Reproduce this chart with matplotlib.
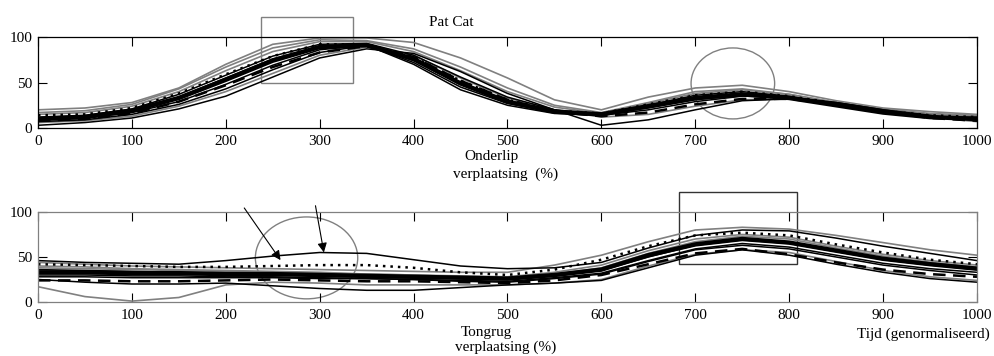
import numpy as np
import matplotlib.pyplot as plt
from matplotlib.patches import Ellipse, Rectangle

# genormaliseerde tijd, elke 50 eenheden
tijd = list(range(0, 1001, 50))
x_ticks = list(range(0, 1001, 100))
y_ticks = [0, 50, 100]

# Onderlip verplaatsing (%)
onder_gemiddeld = [10, 12, 19, 33, 53, 74, 89, 91, 76, 49, 29, 18, 15, 24, 33, 37, 33, 25, 17, 12, 10]
onder_hoog = [20, 22, 28, 44, 70, 92, 99, 99, 94, 77, 55, 31, 20, 34, 44, 47, 40, 30, 22, 18, 15]
onder_laag = [3, 6, 11, 21, 35, 56, 77, 87, 82, 62, 38, 20, 3, 9, 20, 30, 32, 28, 20, 14, 8]
onder_streep = [8, 10, 16, 29, 47, 67, 83, 90, 78, 52, 31, 18, 13, 17, 26, 32, 32, 26, 18, 11, 8]
onder_punt = [14, 15, 22, 38, 59, 79, 92, 92, 78, 52, 31, 19, 16, 26, 36, 40, 35, 27, 19, 14, 12]
onder_a = [12, 14, 21, 37, 58, 79, 92, 93, 80, 56, 34, 20, 15, 25, 36, 40, 35, 26, 18, 13, 11]
onder_b = [9, 11, 17, 29, 48, 69, 86, 91, 72, 45, 27, 17, 15, 22, 31, 36, 34, 27, 18, 12, 9]
onder_c = [15, 17, 24, 40, 63, 84, 95, 95, 84, 63, 40, 23, 16, 27, 38, 42, 37, 28, 20, 15, 13]
onder_d = [7, 9, 15, 26, 43, 64, 83, 91, 70, 42, 25, 16, 14, 20, 29, 35, 34, 28, 20, 13, 9]
onder_e = [11, 13, 19, 34, 55, 76, 90, 91, 74, 48, 29, 18, 16, 23, 32, 38, 34, 25, 17, 12, 12]
onder_f = [17, 19, 26, 43, 67, 88, 97, 96, 87, 67, 44, 25, 17, 28, 40, 43, 37, 28, 21, 16, 14]
onder_g = [6, 8, 13, 24, 40, 60, 80, 89, 80, 55, 33, 20, 12, 15, 24, 31, 32, 27, 19, 12, 7]

# Tongrug verplaatsing (%)
tong_gemiddeld = [33, 33, 32, 32, 31, 31, 30, 29, 28, 27, 26, 30, 36, 52, 64, 70, 66, 57, 48, 42, 37]
tong_bult = [46, 44, 43, 42, 46, 51, 55, 54, 47, 40, 37, 38, 44, 60, 74, 80, 79, 71, 62, 54, 46]
tong_dal = [17, 6, 1, 5, 19, 22, 21, 19, 19, 19, 19, 21, 25, 40, 53, 58, 55, 45, 35, 28, 24]
tong_hoog = [44, 42, 40, 39, 38, 37, 36, 35, 34, 33, 33, 41, 52, 67, 80, 83, 81, 74, 66, 58, 52]
tong_punt = [42, 41, 40, 39, 39, 40, 41, 41, 38, 33, 30, 36, 47, 62, 74, 77, 74, 64, 55, 47, 42]
tong_streep = [24, 24, 23, 23, 24, 25, 24, 23, 23, 22, 21, 24, 30, 42, 54, 59, 53, 44, 36, 31, 28]
tong_laag = [25, 22, 20, 20, 21, 18, 15, 13, 13, 16, 19, 21, 24, 38, 52, 58, 52, 42, 33, 26, 22]
tong_a = [36, 35, 34, 33, 32, 31, 29, 28, 27, 26, 25, 29, 35, 50, 63, 69, 65, 56, 47, 41, 36]
tong_b = [30, 30, 29, 29, 28, 28, 27, 26, 25, 24, 23, 27, 32, 46, 59, 65, 61, 52, 43, 37, 33]
tong_c = [38, 37, 36, 35, 34, 33, 32, 31, 30, 29, 28, 33, 41, 57, 70, 75, 72, 62, 53, 46, 41]
tong_d = [28, 28, 27, 27, 27, 27, 26, 26, 25, 23, 22, 26, 31, 45, 58, 63, 59, 50, 41, 35, 30]
tong_e = [40, 39, 37, 36, 35, 34, 33, 31, 30, 28, 27, 31, 38, 54, 67, 73, 70, 60, 51, 44, 39]

plt.rcParams['font.family'] = ['Liberation Serif', 'DejaVu Serif']
plt.rcParams['font.size'] = 11

GRAY = '#808080'


def draw_panel(ax, thin_black, thin_gray, dashed, dotted, mean, frame_color):
    """Draw all trials of one articulator in a single axes."""
    for y in thin_gray:
        ax.plot(tijd, y, color=GRAY, lw=1.2)
    for y in thin_black:
        ax.plot(tijd, y, color='black', lw=1.1)
    ax.plot(tijd, dashed, color='black', lw=1.8, ls=(0, (5, 3)))
    ax.plot(tijd, dotted, color='black', lw=1.8, ls=(0, (1, 2)))
    ax.plot(tijd, mean, color='black', lw=3.2)

    ax.set_xlim(0, 1000)
    ax.set_ylim(0, 100)
    ax.set_xticks(x_ticks)
    ax.set_yticks(y_ticks)
    ax.tick_params(direction='in', top=True, right=True, length=6.5,
                   width=0.8, pad=4)
    ax.tick_params(axis='x', pad=5)
    for sp in ax.spines.values():
        sp.set_color(frame_color)
        sp.set_linewidth(0.9)


fig = plt.figure(figsize=(9.94, 3.56), dpi=100)
ax_top = fig.add_axes([0.0382, 0.6404, 0.9447, 0.2556])
ax_bot = fig.add_axes([0.0382, 0.1517, 0.9447, 0.2528])

draw_panel(ax_top,
           [onder_laag, onder_a, onder_b, onder_d, onder_e],
           [onder_hoog, onder_c, onder_f, onder_g],
           onder_streep, onder_punt, onder_gemiddeld, 'black')
draw_panel(ax_bot,
           [tong_bult, tong_laag, tong_a, tong_b, tong_d],
           [tong_dal, tong_hoog, tong_c, tong_e],
           tong_streep, tong_punt, tong_gemiddeld, GRAY)

# markeringen in de bovenste grafiek
ax_top.add_patch(Rectangle((237, 50), 99, 72, fill=False, ec=GRAY, lw=1.0,
                           clip_on=False))
ax_top.add_patch(Ellipse((740, 49), 89, 78, fill=False, ec=GRAY, lw=1.0,
                         clip_on=False))

# markeringen in de onderste grafiek
ax_bot.add_patch(Rectangle((683, 42), 125, 80, fill=False, ec='#333333', lw=1.0,
                           clip_on=False))
ax_bot.add_patch(Ellipse((286, 49), 109, 91, fill=False, ec=GRAY, lw=1.0,
                         clip_on=False))
arrow = dict(arrowstyle='-|>', color='black', lw=0.8, mutation_scale=14)
ax_bot.annotate('', xy=(260, 44), xytext=(218, 107), arrowprops=arrow,
                annotation_clip=False)
ax_bot.annotate('', xy=(305, 52), xytext=(295, 110), arrowprops=arrow,
                annotation_clip=False)

fig.text(0.4537, 0.938, 'Pat Cat', ha='center', va='center')
fig.text(0.494, 0.559, 'Onderlip', ha='center', va='center')
fig.text(0.509, 0.511, 'verplaatsing  (%)', ha='center', va='center')
fig.text(0.489, 0.065, 'Tongrug', ha='center', va='center')
fig.text(0.509, 0.024, 'verplaatsing (%)', ha='center', va='center')
fig.text(0.9285, 0.062, 'Tijd (genormaliseerd)', ha='center', va='center')

fig.savefig('out.png', dpi=100)
plt.close(fig)
